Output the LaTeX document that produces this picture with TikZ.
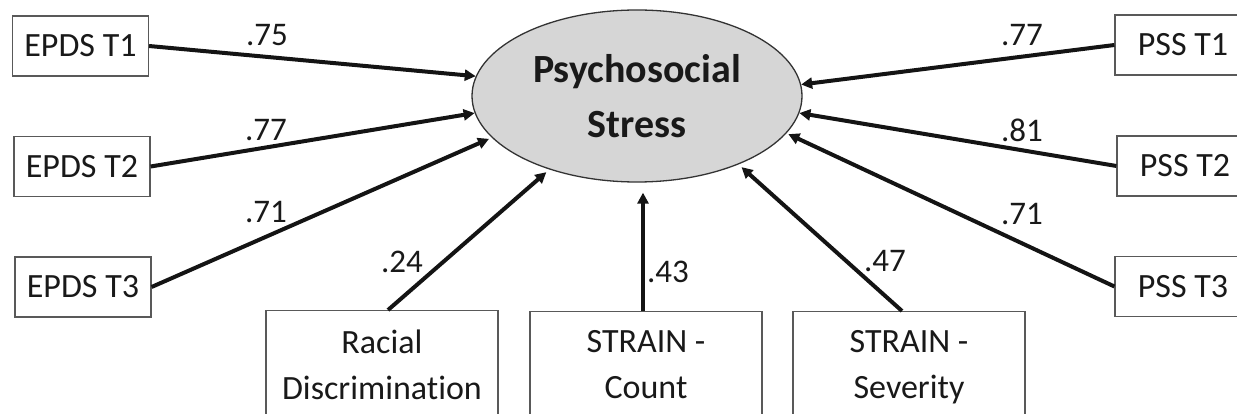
\documentclass[tikz,border=0pt]{standalone}
\usepackage{fontspec}
\setmainfont[Ligatures=NoCommon]{Carlito}
\usetikzlibrary{shapes.geometric,arrows.meta}
\begin{document}
\begin{tikzpicture}[x=1pt,y=-1pt,
  box/.style={draw=black!65, line width=1.2pt, fill=white, text=black!90,
    font=\fontsize{34}{46}\selectfont, inner sep=0pt,
    minimum width=136pt, minimum height=60pt},
  obox/.style={draw=black!65, line width=1.2pt, text=black!90,
    font=\fontsize{34}{46}\selectfont, align=center, anchor=north,
    minimum width=232pt, inner xsep=0pt, inner ysep=19pt},
  ell/.style={ellipse, draw=black!80, line width=1.3pt, fill=black!16,
    minimum width=330pt, minimum height=172pt, inner sep=0pt, align=center,
    font=\fontsize{40}{55}\selectfont\bfseries, text=black!90},
  arr/.style={line width=4pt, draw=black!92,
    -{Triangle[length=11pt,width=11pt]}},
  lab/.style={font=\fontsize{33}{40}\selectfont, text=black!90, inner sep=0pt}]
\clip (0,0) rectangle (1237,414);
\useasboundingbox (0,0) rectangle (1237,414);

\node[box] (e1) at (80.5,46) {EPDS T1};
\node[box] (e2) at (82,166.5) {EPDS T2};
\node[box] (e3) at (83,287) {EPDS T3};
\node[box] (p1) at (1183,45) {PSS T1};
\node[box] (p2) at (1185,166) {PSS T2};
\node[box] (p3) at (1183,286.5) {PSS T3};

\node[ell] (ps) at (637,96) {Psychosocial\\Stress};

\node[obox] (rd) at (382,310) {Racial\\Discrimination};
\node[obox] (sc) at (646,311) {STRAIN -\\Count};
\node[obox] (sv) at (909,311) {STRAIN -\\Severity};

\draw[arr] (e1.east) -- (ps.173);
\draw[arr] (e2.east) -- (ps.186);
\draw[arr, shorten >=3pt] (e3.east) -- (ps.196);
\draw[arr, shorten >=4pt] ([xshift=6pt]rd.north) -- (ps.220);
\draw[arr, shorten >=10pt] ([xshift=-3pt]sc.north) -- ([xshift=-3pt]sc.north |- ps.south);
\draw[arr, shorten >=4pt] ([xshift=-7pt]sv.north) -- (ps.326);
\draw[arr] (p1.west) -- (ps.4.5);
\draw[arr] (p2.west) -- (ps.354);
\draw[arr, shorten >=2pt] (p3.west) -- (ps.346);

\node[lab] (l1) at (267,35) {.75};
\node[lab] (l2) at (266,130) {.77};
\node[lab] (l3) at (266,212) {.71};
\node[lab] (l4) at (402,262) {.24};
\node[lab] (l5) at (668,272) {.43};
\node[lab] (l6) at (885,261) {.47};
\node[lab] (l7) at (1022,35) {.77};
\node[lab] (l8) at (1022,130) {.81};
\node[lab] (l9) at (1022,214) {.71};
\end{tikzpicture}
\end{document}
